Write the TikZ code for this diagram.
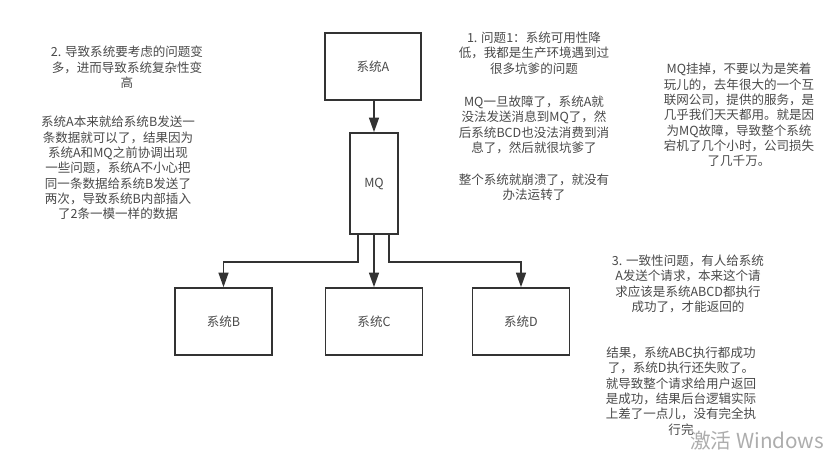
\documentclass[tikz,border=0pt]{standalone}
\usepackage{fontspec}
\setmainfont{Noto Sans CJK SC}
\usetikzlibrary{arrows.meta,calc}
\definecolor{ink}{HTML}{333333}
\definecolor{txt}{HTML}{4A4A4A}
\tikzset{
  sysbox/.style={draw=ink,line width=1.25pt,fill=white,inner sep=0pt,text=txt,font=\fontsize{9.4}{11.5}\selectfont},
  conn/.style={draw=ink,line width=1.2pt,-{Triangle[length=11pt,width=7.5pt]}},
  note/.style={align=center,text=txt,inner sep=0pt,font=\fontsize{9.4}{11.5}\selectfont},
  wmark/.style={text=black!32,inner sep=0pt,font=\fontsize{15.5}{18}\selectfont}
}
\begin{document}
\begin{tikzpicture}[x=0.75pt,y=-0.75pt]
\useasboundingbox (0,0) rectangle (835,451);
\fill[white] (0,0) rectangle (835,451);
% boxes
\node[sysbox,minimum width=72pt,minimum height=50.25pt] (a) at (373,66.5) {系统A};
\node[sysbox,minimum width=36pt,minimum height=75.75pt] (mq) at (374,183.5) {MQ};
\node[sysbox,minimum width=72.75pt,minimum height=50.25pt] (b) at (223.5,321.5) {系统B};
\node[sysbox,minimum width=72.75pt,minimum height=50.25pt] (c) at (374,321.5) {系统C};
\node[sysbox,minimum width=72.75pt,minimum height=50.25pt] (d) at (521,321.5) {系统D};
% connectors
\coordinate (mqb) at ($(mq.south)+(-16,0)$);
\coordinate (mqd) at ($(mq.south)+(15,0)$);
\coordinate (bus) at ($(mq.south)+(0,27)$);
\draw[conn] (a.south -| mq.north) -- (mq.north);
\draw[conn] (mq.south) -- (c.north);
\draw[conn] (mqb) -- (mqb |- bus) -- (bus -| b.north) -- (b.north);
\draw[conn] (mqd) -- (mqd |- bus) -- (bus -| d.north) -- (d.north);
% notes
\node[note] (n1) at (127,67.5) {2. 导致系统要考虑的问题变\\多，进而导致系统复杂性变\\高};
\node[note] (n2) at (118,168) {系统A本来就给系统B发送一\\条数据就可以了，结果因为\\系统A和MQ之前协调出现\\一些问题，系统A不小心把\\同一条数据给系统B发送了\\两次，导致系统B内部插入\\了2条一模一样的数据};
\node[note] (n3) at (534,53) {1. 问题1：系统可用性降\\低，我都是生产环境遇到过\\很多坑爹的问题};
\node[note] (n4) at (534,125) {MQ一旦故障了，系统A就\\没法发送消息到MQ了，然\\后系统BCD也没法消费到消\\息了，然后就很坑爹了};
\node[note] (n5) at (534,187) {整个系统就崩溃了，就没有\\办法运转了};
\node[note] (n6) at (739,115) {MQ挂掉，不要以为是笑着\\玩儿的，去年很大的一个互\\联网公司，提供的服务，是\\几乎我们天天都用。就是因\\为MQ故障，导致整个系统\\宕机了几个小时，公司损失\\了几千万。};
\node[note] (n7) at (688,284) {3. 一致性问题，有人给系统\\A发送个请求，本来这个请\\求应该是系统ABCD都执行\\成功了，才能返回的};
\node[note] (n8) at (681,391) {结果，系统ABC执行都成功\\了，系统D执行还失败了。\\就导致整个请求给用户返回\\是成功，结果后台逻辑实际\\上差了一点儿，没有完全执\\行完};
\node[wmark,anchor=west] (wm) at (690,441) {激活 Windows};
\end{tikzpicture}
\end{document}
